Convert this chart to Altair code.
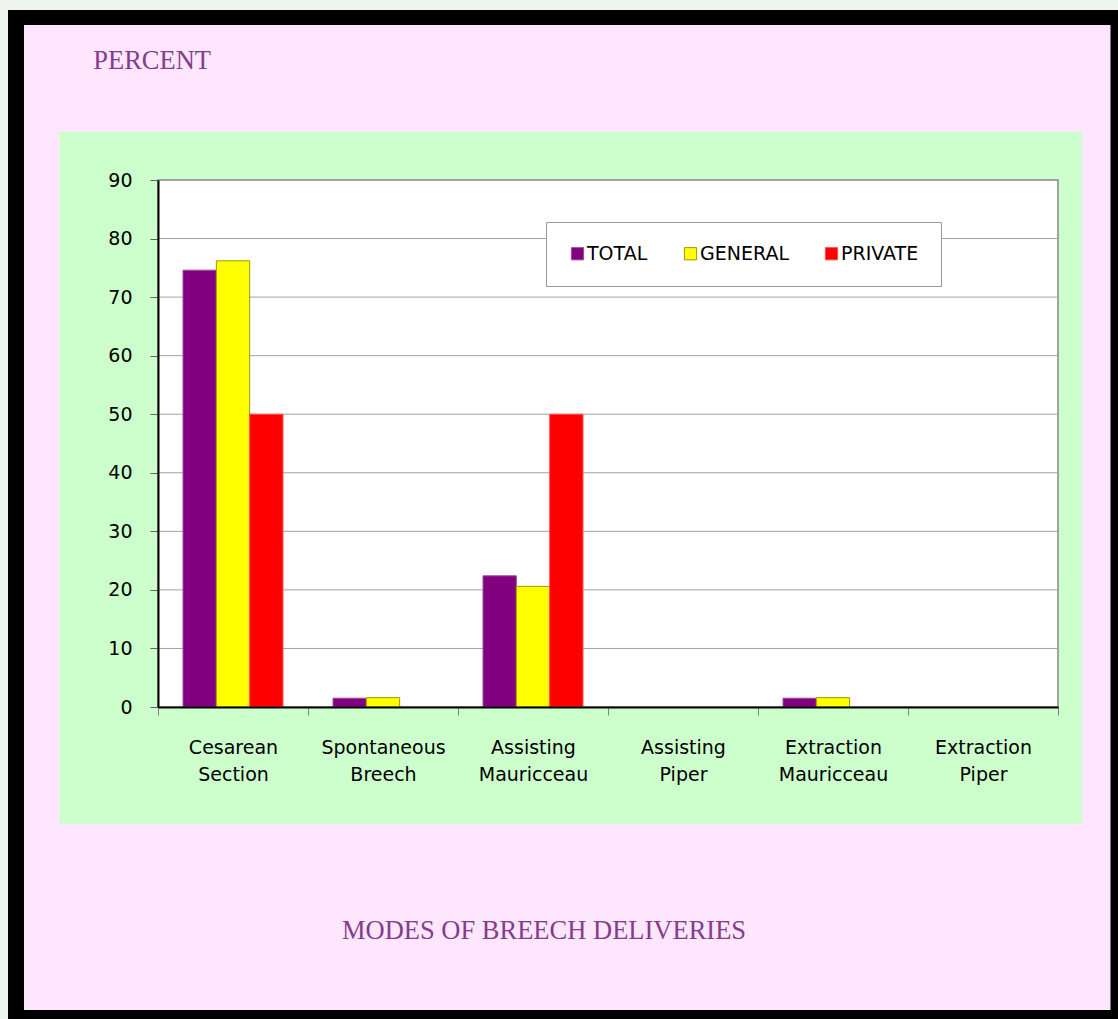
import altair as alt
import pandas as pd

# Delivery modes (two-word labels, split onto two lines on the axis)
modes = [
    "Cesarean Section",
    "Spontaneous Breech",
    "Assisting Mauricceau",
    "Assisting Piper",
    "Extraction Mauricceau",
    "Extraction Piper",
]
series = ["TOTAL", "GENERAL", "PRIVATE"]

# Percent of breech deliveries per mode
total = [74.6, 1.5, 22.4, 0.0, 1.5, 0.0]
general = [76.2, 1.6, 20.6, 0.0, 1.6, 0.0]
private = [50.0, 0.0, 50.0, 0.0, 0.0, 0.0]

y_ticks = [0, 10, 20, 30, 40, 50, 60, 70, 80, 90]

fill_colors = ["#800080", "#FFFF00", "#FF0000"]
edge_colors = ["#9C4C9C", "#9A9A00", "#FF5050"]

rows = []
for name, vals in zip(series, [total, general, private]):
    for mode, v in zip(modes, vals):
        rows.append({"mode": mode, "series": name, "value": v})
bars_df = pd.DataFrame(rows)
grid_df = pd.DataFrame({"tick": y_ticks[1:-1]})
one = pd.DataFrame({"k": [0]})

W, H = 900, 527
TITLE_COLOR = "#843C8C"
LABEL_FONT = "DejaVu Sans"
TITLE_FONT = "Liberation Serif"

# Page decoration: black frame, pink sheet, green chart panel, white plot area
frame = alt.Chart(one).mark_rect(color="#000000").encode(
    x=alt.value(-150), x2=alt.value(960), y=alt.value(-170), y2=alt.value(839)
)
sheet = alt.Chart(one).mark_rect(color="#FFE6FF").encode(
    x=alt.value(-134), x2=alt.value(952.5), y=alt.value(-155), y2=alt.value(830)
)
panel = alt.Chart(one).mark_rect(color="#CCFFCC").encode(
    x=alt.value(-98.5), x2=alt.value(923.7), y=alt.value(-48.3), y2=alt.value(643.7)
)
plot_bg = alt.Chart(one).mark_rect(
    color="#FFFFFF", stroke="#888888", strokeWidth=1.5
).encode(x=alt.value(0), x2=alt.value(W), y=alt.value(0), y2=alt.value(H))

y_scale = alt.Scale(domain=[0, 90], nice=False)

grid = alt.Chart(grid_df).mark_rule(color="#A0A0A0", strokeWidth=1).encode(
    y=alt.Y("tick:Q", scale=y_scale)
)

legend = alt.Legend(
    title=None,
    orient="none",
    legendX=388,
    legendY=42,
    direction="horizontal",
    padding=22,
    strokeColor="#999999",
    fillColor="#FFFFFF",
    symbolType="square",
    symbolSize=150,
    symbolStrokeWidth=1,
    labelFont=LABEL_FONT,
    labelFontSize=19,
    labelColor="#000000",
    labelOffset=0,
    columnPadding=33,
    cornerRadius=0,
)

bars = alt.Chart(bars_df).transform_filter("datum.value > 0").mark_bar(strokeWidth=1).encode(
    x=alt.X(
        "mode:N",
        sort=modes,
        scale=alt.Scale(domain=modes, paddingInner=0, paddingOuter=0),
        axis=alt.Axis(
            title="MODES OF BREECH DELIVERIES",
            titleFont=TITLE_FONT,
            titleFontSize=26.5,
            titleFontWeight="normal",
            titleColor=TITLE_COLOR,
            titleX=385.5,
            titleY=231,
            titleAlign="center",
            titleBaseline="alphabetic",
            labelExpr="split(datum.label, ' ')",
            labelAngle=0,
            labelFont=LABEL_FONT,
            labelFontSize=19,
            labelColor="#000000",
            labelLineHeight=27,
            labelPadding=23,
            tickSize=8,
            tickColor="#808080",
            tickBand="extent",
            domainColor="#000000",
            domainWidth=2,
            grid=False,
            zindex=1,
        ),
    ),
    xOffset=alt.XOffset(
        "series:N",
        sort=series,
        scale=alt.Scale(domain=series, paddingInner=0, paddingOuter=0.75),
    ),
    y=alt.Y(
        "value:Q",
        scale=y_scale,
        axis=alt.Axis(
            title="PERCENT",
            titleFont=TITLE_FONT,
            titleFontSize=26.5,
            titleFontWeight="normal",
            titleColor=TITLE_COLOR,
            titleAngle=0,
            titleX=-65.3,
            titleY=-112,
            titleAlign="left",
            titleBaseline="alphabetic",
            values=y_ticks,
            labelFont=LABEL_FONT,
            labelFontSize=19,
            labelColor="#000000",
            labelPadding=18,
            tickSize=8,
            tickColor="#606060",
            domainColor="#000000",
            domainWidth=2,
            grid=False,
            zindex=1,
        ),
    ),
    color=alt.Color(
        "series:N",
        sort=series,
        scale=alt.Scale(domain=series, range=fill_colors),
        legend=legend,
    ),
    stroke=alt.Stroke(
        "series:N",
        sort=series,
        scale=alt.Scale(domain=series, range=edge_colors),
        legend=legend,
    ),
)

chart = (
    alt.layer(frame, sheet, panel, plot_bg, grid, bars)
    .properties(
        width=W,
        height=H,
        autosize=alt.AutoSizeParams(type="none"),
        padding={"left": 158, "top": 180, "right": 60, "bottom": 312},
        background="#EEF5EE",
    )
    .configure_view(stroke=None)
)

chart.save("out.html", embed_options={"renderer": "svg", "actions": False})
